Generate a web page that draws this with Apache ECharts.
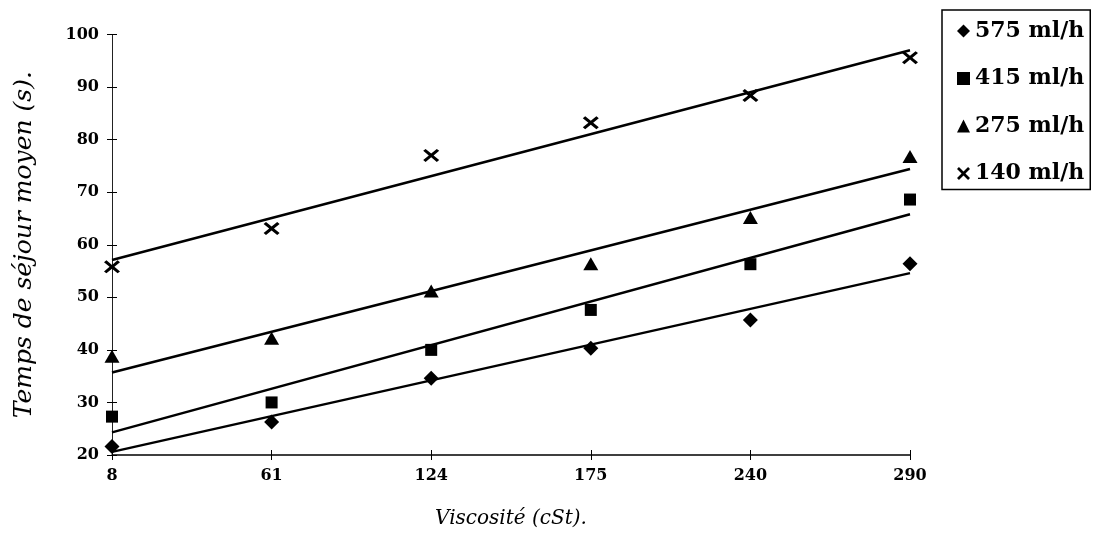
<!DOCTYPE html>
<html>
<head>
<meta charset="utf-8">
<script src="https://cdn.jsdelivr.net/npm/echarts@6/dist/echarts.min.js"></script>
<style>
html,body{margin:0;padding:0;background:#fff;}
#chart{width:1104px;height:549px;}
</style>
</head>
<body>
<div id="chart"></div>
<script>
// ---- data ----
const categories = ['8', '61', '124', '175', '240', '290'];
const yTicks = [20, 30, 40, 50, 60, 70, 80, 90, 100];
const seriesNames = ['575 ml/h', '415 ml/h', '275 ml/h', '140 ml/h'];
const s575 = [21.6, 26.3, 34.6, 40.3, 45.7, 56.4];
const s415 = [27.3, 30.0, 40.0, 47.6, 56.3, 68.6];
const s275 = [38.8, 42.2, 51.2, 56.4, 65.2, 76.8];
const s140 = [55.8, 63.1, 77.0, 83.2, 88.4, 95.6];
// trend-line values at the first and last category
const trend575 = [20.6, 54.6];
const trend415 = [24.3, 65.8];
const trend275 = [35.7, 74.4];
const trend140 = [57.1, 97.0];

const xPath = 'path://M3,0 L10,7 L17,0 L20,3 L13,10 L20,17 L17,20 L10,13 L3,20 L0,17 L7,10 L0,3 Z';
const symbols = ['diamond', 'rect', 'triangle', xPath];
const symbolSizes = [[15, 15], [12, 12], [15, 13], [16, 13]];
const values = [s575, s415, s275, s140];
const trends = [trend575, trend415, trend275, trend140];

const serif = 'DejaVu Serif';
const chart = echarts.init(document.getElementById('chart'), null, {renderer: 'canvas'});

const series = [];
values.forEach((vals, i) => {
  series.push({
    name: seriesNames[i],
    type: 'scatter',
    xAxisIndex: 0, yAxisIndex: 0,
    symbol: symbols[i],
    symbolSize: symbolSizes[i],
    itemStyle: {color: '#000', opacity: 1},
    data: vals.map((v, k) => [categories[k], v]),
    z: 3
  });
});
trends.forEach((t, i) => {
  series.push({
    name: 'trend' + i,
    type: 'line',
    xAxisIndex: 0, yAxisIndex: 0,
    symbol: 'none',
    lineStyle: {color: '#000', width: 2.5},
    data: [[categories[0], t[0]], [categories[categories.length - 1], t[1]]],
    silent: true,
    z: 2
  });
});

const option = {
  backgroundColor: '#fff',
  animation: false,
  grid: {left: 112, right: 194, top: 34.5, bottom: 94, containLabel: false},
  legend: {
    data: seriesNames.map((n, i) => ({name: n, icon: symbols[i], itemStyle: {color: '#000', opacity: 1}})),
    orient: 'vertical',
    left: 942, top: 10,
    itemWidth: 13, itemHeight: 13,
    itemGap: 25.5,
    padding: [10, 6, 5, 15],
    borderColor: '#000', borderWidth: 1.5,
    textStyle: {fontFamily: serif, fontWeight: 'bold', fontSize: 22, color: '#000'}
  },
  xAxis: [{
    type: 'category',
    data: categories,
    boundaryGap: false,
    position: 'bottom',
    name: 'Viscosité (cSt).',
    nameLocation: 'middle',
    nameGap: 54,
    nameTextStyle: {fontFamily: serif, fontStyle: 'italic', fontSize: 20, color: '#000'},
    axisLine: {lineStyle: {color: '#000', width: 1.5}},
    axisTick: {show: true, length: 5, lineStyle: {color: '#000', width: 1}},
    axisLabel: {fontFamily: serif, fontWeight: 'bold', fontSize: 16, color: '#000', margin: 13},
    splitLine: {show: false}
  }, {
    type: 'category',
    data: categories,
    boundaryGap: false,
    position: 'bottom',
    axisLine: {show: false},
    axisTick: {show: true, inside: true, length: 5, lineStyle: {color: '#000', width: 1}},
    axisLabel: {show: false},
    splitLine: {show: false}
  }],
  yAxis: [{
    type: 'value',
    min: yTicks[0], max: yTicks[yTicks.length - 1], interval: 10,
    name: 'Temps de séjour moyen (s).',
    nameLocation: 'middle',
    nameGap: 75,
    nameTextStyle: {fontFamily: serif, fontStyle: 'italic', fontSize: 25, color: '#000'},
    axisLine: {show: true, lineStyle: {color: '#222', width: 1}},
    axisTick: {show: true, length: 5, lineStyle: {color: '#000', width: 1}},
    axisLabel: {fontFamily: serif, fontWeight: 'bold', fontSize: 16, color: '#000', margin: 13},
    splitLine: {show: false}
  }, {
    type: 'value',
    min: yTicks[0], max: yTicks[yTicks.length - 1], interval: 10,
    position: 'left',
    axisLine: {show: false},
    axisTick: {show: true, inside: true, length: 5, lineStyle: {color: '#000', width: 1}},
    axisLabel: {show: false},
    splitLine: {show: false}
  }],
  series: series
};
chart.setOption(option);
</script>
</body>
</html>
